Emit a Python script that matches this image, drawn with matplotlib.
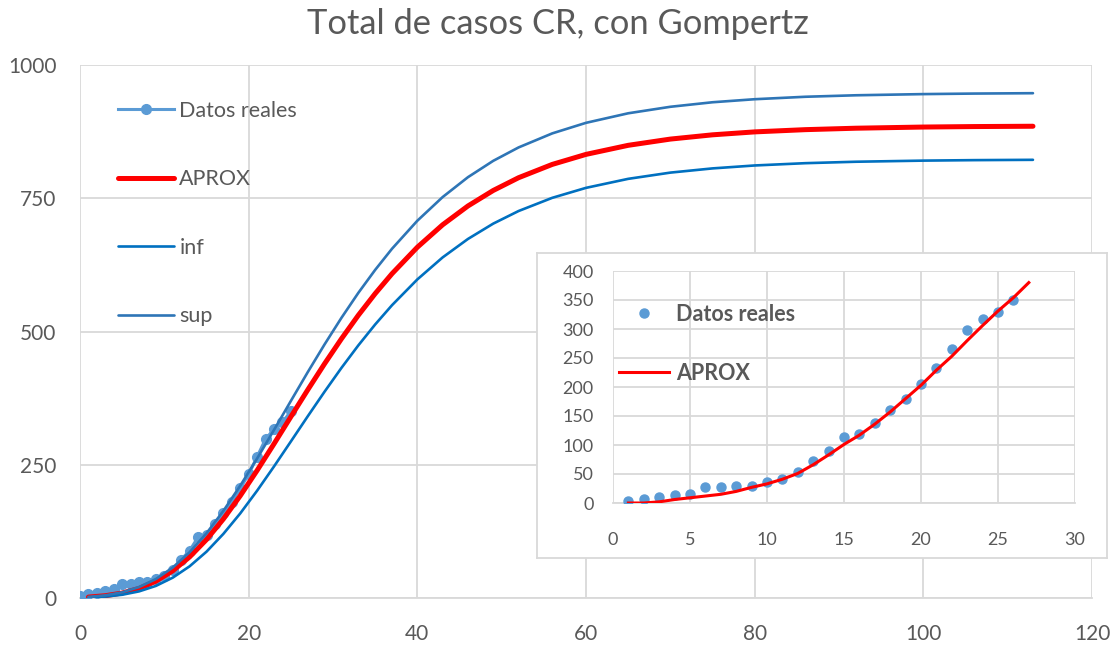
import matplotlib
matplotlib.use("Agg")
import matplotlib.pyplot as plt

plt.rcParams['font.family'] = ['Lato', 'DejaVu Sans']

# ---------------- data ----------------
days = list(range(1, 27))
main_days = list(range(0, 26))
datos_reales = [3, 7, 10, 13, 16, 27, 27, 30, 30, 36, 42, 53, 72, 89, 114, 119,
                138, 160, 180, 206, 232, 265, 298, 317, 330, 350]

curve_x = [1, 3, 5, 7, 9, 11, 13, 15, 17, 19, 21, 23, 25, 27, 29, 31, 33, 35, 37,
           40, 43, 46, 49, 52, 56, 60, 65, 70, 75, 80, 86, 92, 100, 106, 113]
aprox = [1.7, 4.3, 9.3, 17.9, 31.5, 51.0, 77.1, 109.6, 148.2, 191.8, 239.3, 289.1,
         340.0, 390.4, 439.5, 486.3, 530.4, 571.1, 608.5, 658.1, 700.2, 735.5,
         764.6, 788.5, 813.5, 832.3, 849.3, 861.0, 869.0, 874.5, 878.7, 881.4,
         883.6, 884.5, 885.1]
sup = [2.1, 5.0, 10.7, 20.5, 35.6, 57.2, 85.9, 121.4, 163.4, 210.6, 261.7, 315.2,
       369.6, 423.6, 475.8, 525.6, 572.4, 615.6, 655.3, 707.8, 752.2, 789.5,
       820.2, 845.3, 871.7, 891.5, 909.4, 921.6, 930.1, 935.8, 940.4, 943.2,
       945.4, 946.4, 947.1]
inf = [1.0, 2.7, 6.1, 12.4, 22.7, 38.2, 59.5, 86.9, 120.3, 158.7, 201.3, 246.7,
       293.6, 340.8, 387.1, 431.7, 473.9, 513.2, 549.4, 597.7, 639.0, 673.6,
       702.4, 726.0, 750.8, 769.5, 786.4, 798.1, 806.0, 811.5, 815.8, 818.5,
       820.6, 821.5, 822.1]

inset_x = list(range(1, 28))
inset_aprox = [0, 0, 2, 6, 9, 12, 15, 20, 27, 33, 41, 51, 66, 83, 101, 117, 136,
               157, 180, 203, 229, 253, 280, 306, 331, 354, 380]

main_xticks = [0, 20, 40, 60, 80, 100, 120]
main_yticks = [0, 250, 500, 750, 1000]
inset_xticks = [0, 5, 10, 15, 20, 25, 30]
inset_yticks = [0, 50, 100, 150, 200, 250, 300, 350, 400]

TITLE = "Total de casos CR, con Gompertz"

# ---------------- style ----------------
C_DATA = "#5B9BD5"
C_RED = "#FF0000"
C_INF = "#0070C0"
C_SUP = "#2E75B6"
C_GRID = "#D9D9D9"
C_TXT = "#595959"

W, H = 1116, 647
fig = plt.figure(figsize=(W / 100, H / 100), dpi=100)
fig.patch.set_facecolor("white")


def fx(px):
    return px / W


def fy(py):
    return 1 - py / H


# ---------------- main chart ----------------
ax = fig.add_axes([fx(80), fy(598), fx(1092) - fx(80), fy(65) - fy(598)])
ax.set_xlim(0, 120)
ax.set_ylim(0, 1000)
ax.set_xticks(main_xticks)
ax.set_yticks(main_yticks)
ax.grid(True, color=C_GRID, lw=1.3)
ax.set_axisbelow(True)
for s in ax.spines.values():
    s.set_visible(False)
ax.spines['bottom'].set_visible(True)
ax.spines['bottom'].set_color(C_GRID)
ax.spines['bottom'].set_linewidth(1.3)
ax.tick_params(axis='both', length=0, labelsize=15, labelcolor=C_TXT)
ax.tick_params(axis='y', pad=17)
ax.tick_params(axis='x', pad=19)

ax.plot(main_days, datos_reales, color=C_DATA, lw=2.2, marker='o', ms=7,
        label="Datos reales", zorder=3)
ax.plot(curve_x, aprox, color=C_RED, lw=3.6, label="APROX", zorder=4,
        solid_capstyle='round')
ax.plot(curve_x, inf, color=C_INF, lw=1.9, label="inf", zorder=5,
        solid_capstyle='round')
ax.plot(curve_x, sup, color=C_SUP, lw=1.9, label="sup", zorder=6,
        solid_capstyle='round')

leg = ax.legend(loc='upper left', bbox_to_anchor=(fx(118), fy(101)),
                bbox_transform=fig.transFigure, frameon=False, fontsize=15.5,
                borderpad=0, borderaxespad=0, handlelength=2.6,
                handletextpad=0.25, labelspacing=2.25)
for t in leg.get_texts():
    t.set_color(C_TXT)

fig.text(0.5, fy(24), TITLE, ha='center', va='center', fontsize=24.8, color=C_TXT)

# ---------------- inset box ----------------
box = fig.add_axes([fx(537), fy(558), fx(1107) - fx(537), fy(253) - fy(558)])
box.set_xticks([])
box.set_yticks([])
box.set_facecolor("white")
for s in box.spines.values():
    s.set_color(C_GRID)
    s.set_linewidth(1.3)
box.set_zorder(5)

ins = fig.add_axes([fx(613), fy(503), fx(1075) - fx(613), fy(271) - fy(503)])
ins.set_zorder(6)
ins.set_facecolor("none")
ins.set_xlim(0, 30)
ins.set_ylim(0, 400)
ins.set_xticks(inset_xticks)
ins.set_yticks(inset_yticks)
ins.grid(True, color=C_GRID, lw=1.3)
ins.set_axisbelow(True)
for s in ins.spines.values():
    s.set_visible(False)
ins.spines['bottom'].set_visible(True)
ins.spines['bottom'].set_color(C_GRID)
ins.spines['bottom'].set_linewidth(1.3)
ins.tick_params(axis='both', length=0, labelsize=13, labelcolor=C_TXT)
ins.tick_params(axis='y', pad=14)
ins.tick_params(axis='x', pad=21)

ins.plot(days, datos_reales, linestyle='none', marker='o', ms=6.5,
         color=C_DATA, label="Datos reales", zorder=3)
ins.plot(inset_x, inset_aprox, color=C_RED, lw=2.2, label="APROX", zorder=4)

leg2 = ins.legend(loc='upper left', bbox_to_anchor=(fx(619), fy(304)),
                  bbox_transform=fig.transFigure, frameon=False,
                  prop={'size': 15.5, 'weight': 'bold'},
                  borderpad=0, borderaxespad=0, handlelength=2.3,
                  handletextpad=0.35, labelspacing=1.75)
for t in leg2.get_texts():
    t.set_color(C_TXT)

fig.savefig("out.png", dpi=100, facecolor="white")
